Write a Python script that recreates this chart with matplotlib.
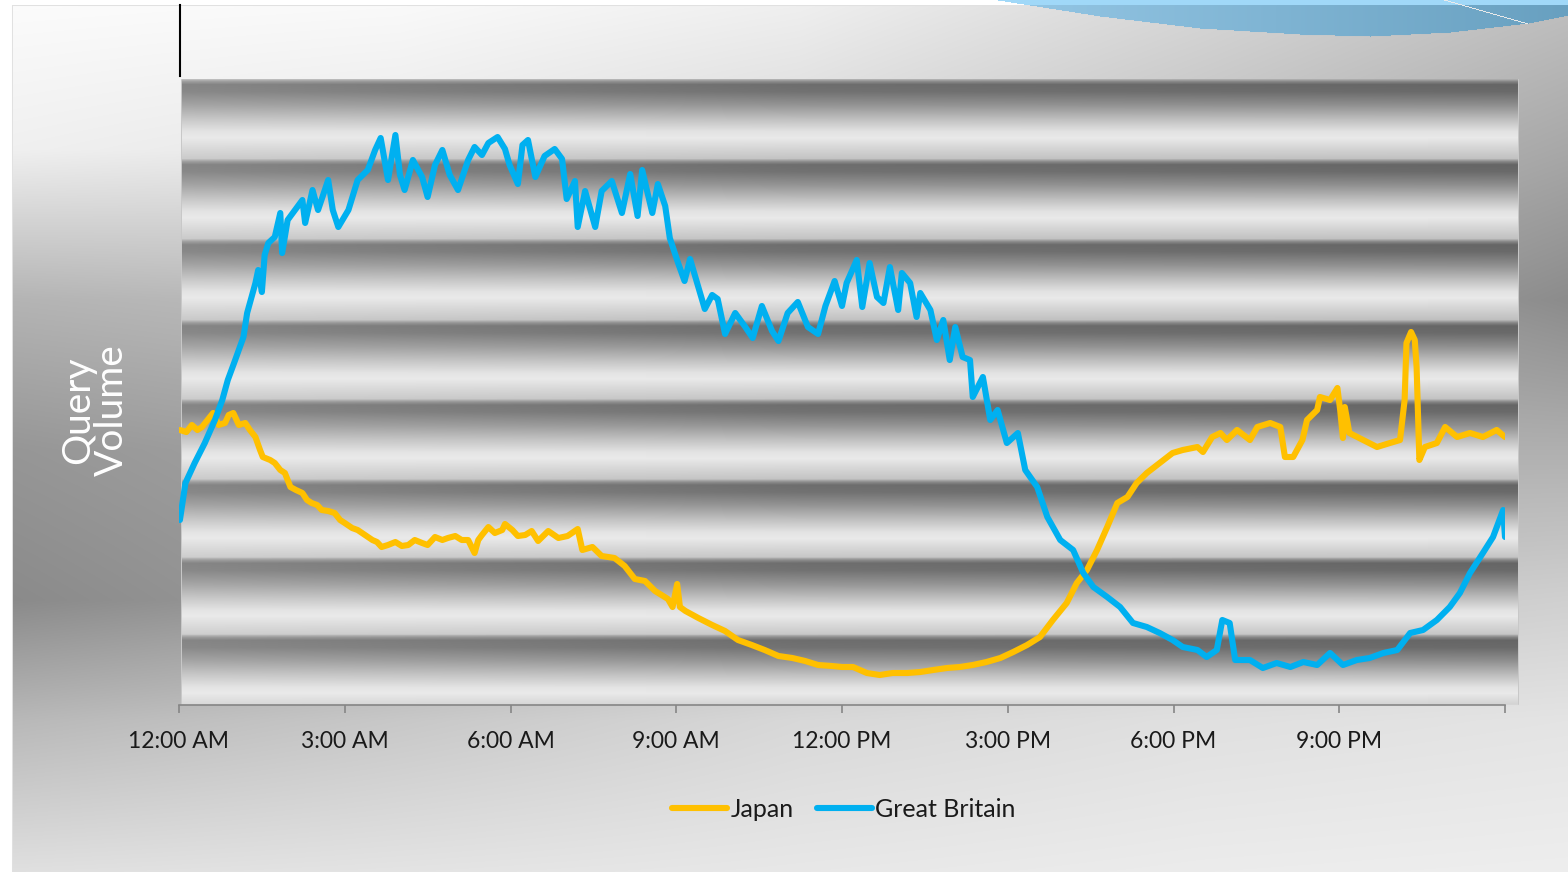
import numpy as np
import matplotlib
matplotlib.use('Agg')
import matplotlib.pyplot as plt
from matplotlib.lines import Line2D


# Dane: minute de la miezul noptii si volumul de cereri (unitati arbitrare)
gb_min = [1, 7, 17, 28, 39, 47, 53, 61, 70, 74,
          83, 86, 90, 93, 97, 104, 110, 112, 118, 126,
          134, 137, 145, 151, 162, 167, 173, 184, 194, 205,
          213, 219, 227, 235, 240, 245, 254, 264, 270, 278,
          286, 294, 303, 314, 321, 329, 336, 346, 354, 359,
          368, 373, 379, 387, 397, 408, 416, 421, 430, 433,
          441, 452, 459, 470, 481, 490, 498, 503, 514, 520,
          528, 533, 542, 549, 555, 563, 571, 579, 585, 593,
          604, 615, 623, 633, 644, 651, 661, 672, 683, 694,
          702, 712, 720, 725, 736, 742, 750, 758, 765, 772,
          781, 785, 794, 801, 805, 816, 823, 830, 837, 843,
          851, 859, 862, 873, 881, 889, 899, 911, 919, 932,
          943, 957, 971, 982, 993, 1008, 1022, 1036, 1051, 1065,
          1079, 1090, 1106, 1116, 1127, 1133, 1141, 1147, 1163, 1177,
          1192, 1207, 1221, 1236, 1250, 1264, 1279, 1293, 1308, 1323,
          1337, 1351, 1366, 1380, 1391, 1402, 1416, 1427, 1438, 1440]
gb_vol = [185, 222, 242, 262, 285, 305, 325, 345, 368, 392,
          422, 435, 413, 450, 462, 468, 492, 452, 485, 495,
          505, 482, 515, 495, 525, 495, 478, 495, 525, 535,
          555, 567, 525, 570, 530, 515, 545, 528, 508, 540,
          555, 530, 515, 545, 558, 550, 562, 568, 556, 540,
          521, 560, 565, 528, 549, 556, 546, 506, 524, 478,
          514, 478, 514, 524, 492, 531, 489, 535, 492, 521,
          499, 467, 442, 424, 446, 421, 396, 410, 406, 371,
          392, 378, 367, 399, 374, 364, 392, 403, 378, 371,
          399, 424, 399, 422, 445, 398, 442, 408, 402, 438,
          395, 432, 422, 388, 412, 395, 365, 385, 345, 378,
          348, 345, 308, 328, 285, 295, 262, 272, 235, 218,
          188, 165, 155, 132, 118, 108, 98, 82, 78, 72,
          65, 58, 55, 48, 55, 85, 82, 45, 45, 37,
          42, 38, 43, 40, 52, 40, 45, 47, 52, 55,
          72, 75, 85, 98, 112, 132, 152, 168, 195, 168]

jp_min = [1, 8, 14, 20, 25, 31, 37, 43, 50, 54,
          59, 65, 72, 77, 83, 88, 91, 99, 104, 110,
          115, 121, 127, 134, 139, 144, 150, 155, 162, 169,
          175, 180, 188, 194, 202, 210, 215, 220, 227, 235,
          242, 249, 256, 264, 270, 278, 286, 292, 300, 307,
          314, 321, 325, 329, 336, 343, 351, 354, 362, 368,
          376, 383, 390, 401, 412, 422, 433, 438, 449, 459,
          473, 484, 495, 506, 517, 531, 536, 541, 544, 550,
          564, 579, 593, 607, 622, 636, 651, 666, 680, 694,
          709, 720, 732, 747, 761, 775, 791, 805, 819, 834,
          848, 862, 877, 892, 906, 921, 935, 949, 964, 975,
          986, 997, 1008, 1019, 1030, 1040, 1051, 1065, 1079, 1090,
          1106, 1112, 1122, 1131, 1138, 1149, 1163, 1171, 1185, 1196,
          1201, 1210, 1220, 1225, 1236, 1239, 1250, 1258, 1261, 1264,
          1266, 1271, 1286, 1301, 1315, 1326, 1331, 1333, 1338, 1342,
          1344, 1347, 1353, 1366, 1375, 1388, 1402, 1416, 1431, 1440]
jp_vol = [275, 273, 280, 275, 278, 285, 292, 280, 282, 290,
          292, 280, 282, 275, 268, 255, 248, 245, 242, 235,
          232, 218, 215, 212, 205, 202, 200, 195, 194, 192,
          185, 182, 177, 175, 170, 165, 163, 158, 160, 163,
          159, 160, 165, 162, 160, 168, 165, 167, 169, 165,
          165, 152, 165, 170, 178, 172, 175, 181, 175, 169,
          170, 174, 164, 174, 167, 169, 176, 155, 158, 149,
          147, 139, 126, 124, 114, 106, 98, 121, 98, 94,
          87, 80, 74, 65, 60, 55, 49, 47, 44, 40,
          39, 38, 38, 32, 30, 32, 32, 33, 35, 37,
          38, 40, 43, 47, 53, 60, 68, 85, 102, 122,
          135, 155, 178, 202, 208, 222, 232, 242, 252, 255,
          258, 253, 268, 272, 265, 275, 265, 278, 282, 278,
          248, 248, 265, 285, 295, 308, 305, 317, 295, 267,
          298, 272, 265, 258, 262, 265, 305, 362, 373, 365,
          338, 245, 258, 262, 278, 268, 272, 268, 275, 268]

ore = [0, 180, 360, 540, 720, 900, 1080, 1260, 1440]
etichete = ['12:00 AM', '3:00 AM', '6:00 AM', '9:00 AM', '12:00 PM',
            '3:00 PM', '6:00 PM', '9:00 PM', '']


# Fundal (slide + zona graficului cu benzi)
W, H = 1568, 872
xs = np.arange(W)
ys = np.arange(H)

gx = [0, 400, 800, 1200, 1568]
gy = np.array([0, 150, 300, 450, 600, 720, 872])
grila = np.array([[252, 250, 240, 216, 192],
                  [240, 232, 216, 192, 168],
                  [180, 188, 184, 168, 140],
                  [150, 164, 176, 176, 176],
                  [138, 156, 180, 200, 208],
                  [184, 200, 216, 224, 228],
                  [224, 228, 232, 236, 238]], float)
randuri = np.array([np.interp(xs, gx, r) for r in grila])
iy = np.clip(np.searchsorted(gy, ys, side='right') - 1, 0, len(gy) - 2)
t = (ys - gy[iy]) / (gy[iy + 1] - gy[iy])
gri = randuri[iy] * (1 - t)[:, None] + randuri[iy + 1] * t[:, None]

# benzi orizontale
x0, x1, y0, y1 = 181, 1519, 80, 705
margini = np.array([80, 160, 240, 321, 400, 480, 558, 635, 713])
yb = np.arange(y0, y1)
ib = np.searchsorted(margini, yb, side='right') - 1
d = yb - margini[ib]
profil = np.interp(d, [0, 2, 5, 12, 25, 40, 52, 58, 68, 80],
                   [176, 144, 116, 120, 152, 196, 228, 234, 216, 196])
fx = np.interp(np.arange(x0, x1), [181, 800, 1519], [0.85, 1.05, 1.12])
benzi = 234 - (234 - profil[:, None]) * fx[None, :]
gri[y0:y1, x0:x1] = benzi
gri[y0:y1, x0] = 200
gri[y0:y1, x1 - 1] = 200

img = np.repeat(gri[:, :, None], 3, axis=2)

# margine alba si chenar
img[:6, :, :] = 255
img[:, :12, :] = 255
img[6, 12:, :] = 225
img[6:, 12, :] = 225

# valul albastru din colt
bx = [985, 1100, 1200, 1300, 1370, 1450, 1528, 1568]
by = [0, 18, 30, 36, 38, 34, 25, 17]
for c in range(985, W):
    yl = int(np.interp(c, bx, by))
    u = (c - 985) / (W - 985)
    col = np.array([150, 200, 230]) * (1 - u) + np.array([104, 160, 192]) * u
    img[:yl, c, :] = col
    img[:min(yl, 6), c, :] = np.array([160, 216, 248])
for c in range(1440, 1528):
    r = int(np.interp(c, [1440, 1528], [0, 25]))
    img[r, c, :] = 235

img = np.clip(img, 0, 255).astype(np.uint8)


# Grafic
plt.rcParams['font.family'] = ['Lato', 'DejaVu Sans']
fig = plt.figure(figsize=(W / 100, H / 100), dpi=100)

ax_bg = fig.add_axes([0, 0, 1, 1])
ax_bg.imshow(img, aspect='auto', interpolation='bilinear')
ax_bg.axis('off')

ax = fig.add_axes([179 / W, (H - 705) / H, 1326 / W, 625 / H])
ax.patch.set_alpha(0)
ax.plot(jp_min, jp_vol, color='#FFC000', lw=4.4, solid_joinstyle='round',
        solid_capstyle='round', label='Japan')
ax.plot(gb_min, gb_vol, color='#00B0F0', lw=4.4, solid_joinstyle='round',
        solid_capstyle='round', label='Great Britain')
ax.set_xlim(0, 1440)
ax.set_ylim(0, 625)
for s in ['top', 'right', 'left']:
    ax.spines[s].set_visible(False)
ax.spines['bottom'].set_color('#868686')
ax.spines['bottom'].set_linewidth(1.2)
ax.set_yticks([])
ax.set_xticks(ore)
ax.set_xticklabels(etichete)
ax.tick_params(axis='x', direction='out', length=6, width=1.2,
               color='#868686', labelsize=16.5, labelcolor='#1a1a1a', pad=13)

fig.legend(loc='center', bbox_to_anchor=(844 / W, 1 - 809 / H), ncol=2,
           frameon=False, fontsize=18, handlelength=2.2, handletextpad=0.15,
           columnspacing=0.9, labelcolor='#1a1a1a')

fig.text(95 / W, 1 - 410 / H, 'Query\nVolume', rotation=90, color='white',
         fontsize=28, ha='center', va='center', linespacing=0.95)

fig.add_artist(Line2D([180 / W, 180 / W], [1 - 5 / H, 1 - 76 / H],
                      color='black', lw=1.5))

plt.savefig('out.png', dpi=100)
